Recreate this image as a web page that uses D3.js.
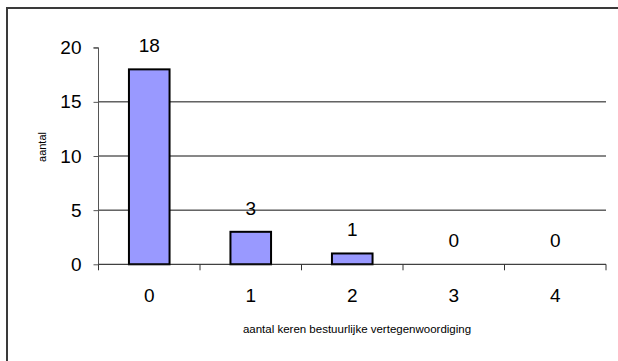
<!DOCTYPE html>
<html>
<head>
<meta charset="utf-8">
<script src="https://cdn.jsdelivr.net/npm/d3@7"></script>
<style>
  html, body { margin: 0; padding: 0; background: #fff; }
  svg { display: block; font-family: Arial, "Liberation Sans", sans-serif; }
</style>
</head>
<body>
<svg id="chart" width="618" height="361"></svg>
<script>
// Frequency of administrative representation
const categories = ["0", "1", "2", "3", "4"];
const counts = [18, 3, 1, 0, 0];
const yTicks = [0, 5, 10, 15, 20];
const xTitle = "aantal keren bestuurlijke vertegenwoordiging";
const yTitle = "aantal";

const svg = d3.select("#chart");
const W = 618, H = 361;
const plot = { left: 98.5, right: 606, top: 47.7, bottom: 264.3 };

// outer frame (runs past the right and bottom edges)
svg.append("rect")
  .attr("x", 7).attr("y", 8)
  .attr("width", W).attr("height", H)
  .attr("fill", "none")
  .attr("stroke", "#3a3a3a")
  .attr("stroke-width", 2);

const x = d3.scaleBand()
  .domain(categories)
  .range([plot.left, plot.right])
  .paddingInner(0.6)
  .paddingOuter(0.3);

const xOuter = d3.scaleBand()
  .domain(categories)
  .range([plot.left, plot.right]);

const y = d3.scaleLinear()
  .domain([0, 20])
  .range([plot.bottom, plot.top]);

// horizontal gridlines
svg.append("g")
  .selectAll("line")
  .data(yTicks.filter(t => t > 0 && t < 20))
  .join("line")
  .attr("x1", plot.left).attr("x2", plot.right)
  .attr("y1", d => y(d)).attr("y2", d => y(d))
  .attr("stroke", "#111")
  .attr("stroke-width", 1);

// y axis
const yAxis = svg.append("g")
  .attr("transform", `translate(${plot.left},0)`)
  .call(d3.axisLeft(y).tickValues(yTicks).tickSize(5).tickPadding(12));
yAxis.select(".domain").attr("stroke", "#555").attr("d", `M-5,${y(20)}H0V${plot.bottom}`);
yAxis.selectAll(".tick line").attr("stroke", "#555");
yAxis.selectAll(".tick text")
  .attr("font-size", 19)
  .attr("fill", "#000")
  .attr("font-family", "Arial, 'Liberation Sans', sans-serif");

// bars
svg.append("g")
  .selectAll("rect")
  .data(categories.map((c, i) => ({ c, v: counts[i] })))
  .join("rect")
  .attr("x", d => x(d.c))
  .attr("width", x.bandwidth())
  .attr("y", d => y(d.v))
  .attr("height", d => y(0) - y(d.v))
  .attr("fill", "#9999ff")
  .attr("stroke", d => d.v > 0 ? "#000" : "none")
  .attr("stroke-width", 2);

// value labels
svg.append("g")
  .selectAll("text")
  .data(categories.map((c, i) => ({ c, v: counts[i] })))
  .join("text")
  .attr("x", d => x(d.c) + x.bandwidth() / 2)
  .attr("y", d => y(d.v) - 17)
  .attr("text-anchor", "middle")
  .attr("font-size", 19)
  .text(d => d.v);

// x axis line with ticks at band boundaries
const xAxisG = svg.append("g");
xAxisG.append("line")
  .attr("x1", plot.left).attr("x2", plot.right)
  .attr("y1", plot.bottom).attr("y2", plot.bottom)
  .attr("stroke", "#111").attr("stroke-width", 1);
const boundaries = categories.map(c => xOuter(c)).concat([plot.right]);
xAxisG.selectAll("line.tick")
  .data(boundaries)
  .join("line")
  .attr("class", "tick")
  .attr("x1", d => d).attr("x2", d => d)
  .attr("y1", plot.bottom).attr("y2", plot.bottom + 6)
  .attr("stroke", "#333");
xAxisG.selectAll("text")
  .data(categories)
  .join("text")
  .attr("x", d => xOuter(d) + xOuter.bandwidth() / 2)
  .attr("y", 302)
  .attr("text-anchor", "middle")
  .attr("font-size", 19)
  .text(d => d);

// axis titles
svg.append("text")
  .attr("x", 357).attr("y", 333)
  .attr("text-anchor", "middle")
  .attr("font-size", 11.5)
  .text(xTitle);

svg.append("text")
  .attr("transform", "translate(46,147) rotate(-90)")
  .attr("text-anchor", "middle")
  .attr("font-size", 11)
  .text(yTitle);
</script>
</body>
</html>
